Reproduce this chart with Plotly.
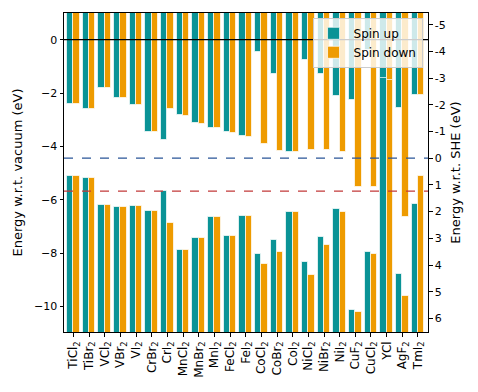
import plotly.graph_objects as go

materials = ["TiCl<sub>2</sub>", "TiBr<sub>2</sub>", "VCl<sub>2</sub>", "VBr<sub>2</sub>", "VI<sub>2</sub>",
             "CrBr<sub>2</sub>", "CrI<sub>2</sub>", "MnCl<sub>2</sub>", "MnBr<sub>2</sub>", "MnI<sub>2</sub>",
             "FeCl<sub>2</sub>", "FeI<sub>2</sub>", "CoCl<sub>2</sub>", "CoBr<sub>2</sub>", "CoI<sub>2</sub>",
             "NiCl<sub>2</sub>", "NiBr<sub>2</sub>", "NiI<sub>2</sub>", "CuF<sub>2</sub>", "CuCl<sub>2</sub>",
             "YCl", "AgF<sub>2</sub>", "TmI<sub>2</sub>"]

cbm_up = [-2.41, -2.58, -1.80, -2.19, -2.46, -3.47, -3.76, -2.81, -3.12, -3.29,
          -3.47, -3.62, -0.45, -1.30, -4.19, -0.75, -1.29, -2.11, -2.27, -0.40,
          -6.00, -2.56, -2.06]
cbm_down = [-2.41, -2.58, -1.80, -2.19, -2.46, -3.47, -2.59, -2.84, -3.15, -3.31,
            -3.50, -3.65, -3.90, -4.17, -4.19, -4.12, -4.12, -4.20, -5.50, -5.50,
            -6.00, -6.63, -2.06]
vbm_up = [-5.12, -5.18, -6.21, -6.25, -6.23, -6.41, -5.66, -7.87, -7.44, -6.64,
          -7.34, -6.60, -8.04, -7.51, -6.46, -8.33, -7.39, -6.36, -10.11, -7.96,
          -1.44, -8.79, -6.14]
vbm_down = [-5.12, -5.18, -6.21, -6.25, -6.23, -6.41, -6.85, -7.87, -7.44, -6.64,
            -7.34, -6.60, -8.39, -7.96, -6.46, -8.83, -7.69, -6.44, -10.21, -8.04,
            -1.50, -9.60, -5.12]

she_ticks = [-5, -4, -3, -2, -1, 0, 1, 2, 3, 4, 5, 6]
vac_ticks = [0, -2, -4, -6, -8, -10]
SHE_REF = -4.44
O2_LEVEL = -5.67

TEAL = "#0a9396"
ORANGE = "#ee9b00"
TOP = 3.0
BOTTOM = -13.0
YMIN, YMAX = -10.95, 1.0

idx = list(range(len(materials)))
x_up = [i - 0.2 for i in idx]
x_dn = [i + 0.2 for i in idx]
edge = dict(color="rgba(255,255,255,0.7)", width=1)

fig = go.Figure()
fig.add_trace(go.Bar(x=x_up, y=[TOP - c for c in cbm_up], base=cbm_up, width=0.4,
                     marker=dict(color=TEAL, line=edge), name="Spin up", legendgroup="up"))
fig.add_trace(go.Bar(x=x_dn, y=[TOP - c for c in cbm_down], base=cbm_down, width=0.4,
                     marker=dict(color=ORANGE, line=edge), name="Spin down", legendgroup="dn"))
fig.add_trace(go.Bar(x=x_up, y=[v - BOTTOM for v in vbm_up], base=[BOTTOM] * len(idx), width=0.4,
                     marker=dict(color=TEAL, line=edge), showlegend=False, legendgroup="up"))
fig.add_trace(go.Bar(x=x_dn, y=[v - BOTTOM for v in vbm_down], base=[BOTTOM] * len(idx), width=0.4,
                     marker=dict(color=ORANGE, line=edge), showlegend=False, legendgroup="dn"))
fig.add_trace(go.Scatter(x=[None], y=[None], yaxis="y2", showlegend=False, hoverinfo="skip"))

fig.add_shape(type="line", xref="paper", x0=0, x1=1, yref="y", y0=0, y1=0,
              line=dict(color="black", width=1.2), layer="above")
fig.add_shape(type="line", xref="paper", x0=0, x1=1, yref="y", y0=SHE_REF, y1=SHE_REF,
              line=dict(color="#2a5598", width=1.2, dash="dash"), layer="above")
fig.add_shape(type="line", xref="paper", x0=0, x1=1, yref="y", y0=O2_LEVEL, y1=O2_LEVEL,
              line=dict(color="#c23a3a", width=1.2, dash="dash"), layer="above")

font = dict(family="DejaVu Sans", size=11, color="black")
fig.update_layout(
    width=478, height=392,
    margin=dict(l=56, r=58, t=5, b=68, autoexpand=False),
    paper_bgcolor="white", plot_bgcolor="white",
    barmode="overlay", bargap=0,
    font=font,
    showlegend=True,
    legend=dict(x=0.985, y=0.985, xanchor="right", yanchor="top",
                bgcolor="rgba(255,255,255,0.8)", bordercolor="#cccccc", borderwidth=1,
                font=dict(family="DejaVu Sans", size=12), tracegroupgap=0),
    xaxis=dict(range=[-0.6, 22.64], tickmode="array", tickvals=idx, ticktext=materials,
               tickangle=-90, ticks="outside", ticklen=3.5, tickcolor="black",
               showline=True, linecolor="black", linewidth=1, mirror=True,
               showgrid=False, zeroline=False, tickfont=dict(size=12), automargin=False),
    yaxis=dict(range=[YMIN, YMAX], tickmode="array", tickvals=vac_ticks,
               ticks="outside", ticklen=3.5, tickcolor="black",
               showline=True, linecolor="black", linewidth=1, mirror=True,
               showgrid=False, zeroline=False, automargin=False,
               tickfont=dict(size=11),
               title=dict(text="Energy w.r.t. vacuum (eV)", standoff=8)),
    yaxis2=dict(overlaying="y", side="right",
                range=[SHE_REF - YMIN, SHE_REF - YMAX],
                tickmode="array", tickvals=she_ticks, ticktext=[str(t) for t in she_ticks],
                ticks="outside", ticklen=3.5, tickcolor="black",
                showline=True, linecolor="black", linewidth=1,
                showgrid=False, zeroline=False, automargin=False,
                tickfont=dict(size=11),
                title=dict(text="Energy w.r.t. SHE (eV)", standoff=6)),
)

fig.write_html("out.html")
